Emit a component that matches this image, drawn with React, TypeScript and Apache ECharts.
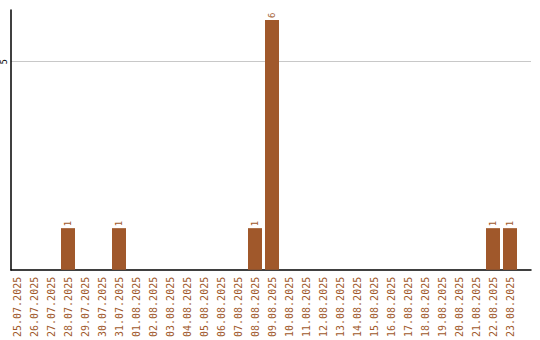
import React, { useEffect, useRef } from "react";
import * as echarts from "echarts";

const dates = [
  "25.07.2025", "26.07.2025", "27.07.2025", "28.07.2025", "29.07.2025",
  "30.07.2025", "31.07.2025", "01.08.2025", "02.08.2025", "03.08.2025",
  "04.08.2025", "05.08.2025", "06.08.2025", "07.08.2025", "08.08.2025",
  "09.08.2025", "10.08.2025", "11.08.2025", "12.08.2025", "13.08.2025",
  "14.08.2025", "15.08.2025", "16.08.2025", "17.08.2025", "18.08.2025",
  "19.08.2025", "20.08.2025", "21.08.2025", "22.08.2025", "23.08.2025",
];

const counts = [
  0, 0, 0, 1, 0,
  0, 1, 0, 0, 0,
  0, 0, 0, 0, 1,
  6, 0, 0, 0, 0,
  0, 0, 0, 0, 0,
  0, 0, 0, 1, 1,
];

const yTicks = [5];

const BROWN = "#a0582b";
const Y_MAX = 6.24;

export default function App() {
  const ref = useRef<HTMLDivElement>(null);

  useEffect(() => {
    if (!ref.current) return;
    const chart = echarts.init(ref.current, null, { renderer: "svg" });
    chart.setOption({
      animation: false,
      backgroundColor: "#ffffff",
      grid: [
        // frame: axis lines and the horizontal guide line
        { left: 11, right: 9, top: 10, bottom: 70 },
        // bars
        { left: 8.5, right: 21.5, top: 10, bottom: 70 },
      ],
      xAxis: [
        {
          gridIndex: 0,
          type: "value",
          min: 0,
          max: 1,
          axisLine: { show: true, onZero: false, lineStyle: { color: "#000", width: 1.5 } },
          axisTick: { show: false },
          axisLabel: { show: false },
          splitLine: { show: false },
        },
        {
          gridIndex: 1,
          type: "category",
          data: dates,
          axisLine: { show: false },
          axisTick: { show: false },
          axisLabel: {
            interval: 0,
            rotate: 90,
            margin: 7,
            color: BROWN,
            fontSize: 10,
            fontFamily: "DejaVu Sans Mono",
          },
        },
      ],
      yAxis: [
        {
          gridIndex: 0,
          type: "value",
          min: 0,
          max: Y_MAX,
          interval: 5,
          axisLine: { show: true, lineStyle: { color: "#000", width: 1.5 } },
          axisTick: { show: false },
          axisLabel: {
            rotate: 90,
            margin: 3,
            fontSize: 8,
            color: "#000",
            fontFamily: "DejaVu Sans",
            formatter: (v: number) => (yTicks.includes(v) ? String(v) : ""),
            showMaxLabel: false,
          },
          splitLine: {
            show: true,
            showMinLine: false,
            showMaxLine: false,
            lineStyle: { color: "#c8c8c8", width: 1 },
          },
        },
        {
          gridIndex: 1,
          type: "value",
          min: 0,
          max: Y_MAX,
          show: false,
          splitLine: { show: false },
        },
      ],
      series: [
        {
          type: "bar",
          xAxisIndex: 1,
          yAxisIndex: 1,
          data: counts,
          barWidth: 14,
          itemStyle: { color: BROWN },
          label: {
            show: true,
            position: "top",
            rotate: 90,
            align: "left",
            verticalAlign: "middle",
            distance: 2,
            color: BROWN,
            fontSize: 9,
            fontFamily: "DejaVu Sans Mono",
            formatter: (p: { value: number }) => (p.value > 0 ? String(p.value) : ""),
          },
        },
      ],
    });
    return () => chart.dispose();
  }, []);

  return <div ref={ref} style={{ width: 540, height: 340, position: "absolute", left: 0, top: 0 }} />;
}
